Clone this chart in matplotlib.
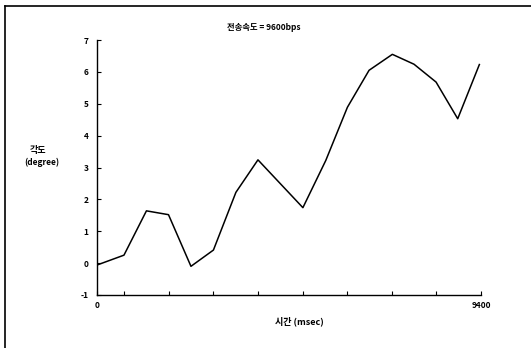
import numpy as np
import matplotlib
matplotlib.use('Agg')
import matplotlib.pyplot as plt
from matplotlib.lines import Line2D

# 데이터
time_ms = [0, 660, 1210, 1750, 2300, 2850, 3400, 3940, 5040, 5600,
           6130, 6660, 7230, 7760, 8300, 8830, 9360]
angle_deg = [-0.06, 0.25, 1.64, 1.52, -0.10, 0.41, 2.22, 3.24, 1.74, 3.22,
             4.89, 6.05, 6.55, 6.24, 5.68, 4.53, 6.23]
y_ticks = [-1, 0, 1, 2, 3, 4, 5, 6, 7]
x_tick_labels = {0: '0', 9400: '9400'}

TITLE = '전송속도 = 9600bps'
XLABEL = '시간 (msec)'
YLABEL_KO = '각도'
YLABEL_EN = '(degree)'

FONTS = ['Noto Sans CJK KR', 'DejaVu Sans']
plt.rcParams['font.family'] = FONTS
plt.rcParams['font.weight'] = 'bold'

W, H = 531, 348
fig = plt.figure(figsize=(W / 100, H / 100), dpi=100)
ax = fig.add_axes([97 / W, 1 - 295 / H, (481 - 97) / W, (295 - 40) / H])

ax.plot(time_ms, angle_deg, color='black', lw=1.1)

ax.set_xlim(0, 9400)
ax.set_ylim(-1, 7)
ax.spines['top'].set_visible(False)
ax.spines['right'].set_visible(False)
for s in ('left', 'bottom'):
    ax.spines[s].set_linewidth(1.0)

ax.set_yticks(y_ticks)
ax.set_yticklabels([str(v) for v in y_ticks], fontsize=6, fontweight='bold')
ax.tick_params(axis='y', direction='in', length=3, width=0.8, pad=6)

# x축 눈금: 9400에서 거꾸로 일정 간격
minor = 9400 - 1092 * np.arange(0, 9)
ax.set_xticks(sorted(minor), minor=True)
ax.tick_params(axis='x', which='minor', direction='in', length=3, width=0.8)
ax.set_xticks(list(x_tick_labels.keys()))
ax.set_xticklabels(list(x_tick_labels.values()), fontsize=6, fontweight='bold')
ax.tick_params(axis='x', which='major', direction='in', length=3, width=0.8, pad=4)

fig.text(264 / W, 1 - 27 / H, TITLE, fontsize=6, ha='center', va='center')
fig.text(299 / W, 1 - 321 / H, XLABEL, fontsize=6.5, ha='center', va='center')
fig.text(38 / W, 1 - 150 / H, YLABEL_KO, fontsize=6.5, ha='center', va='center')
fig.text(42 / W, 1 - 162 / H, YLABEL_EN, fontsize=6, ha='center', va='center')

# 바깥 테두리 (왼쪽, 위)
fig.add_artist(Line2D([5 / W, 5 / W], [0, 1 - 6 / H], color='black', lw=1.2))
fig.add_artist(Line2D([5 / W, 1], [1 - 6 / H, 1 - 6 / H], color='black', lw=1.2))

fig.savefig('out.png', dpi=100)
